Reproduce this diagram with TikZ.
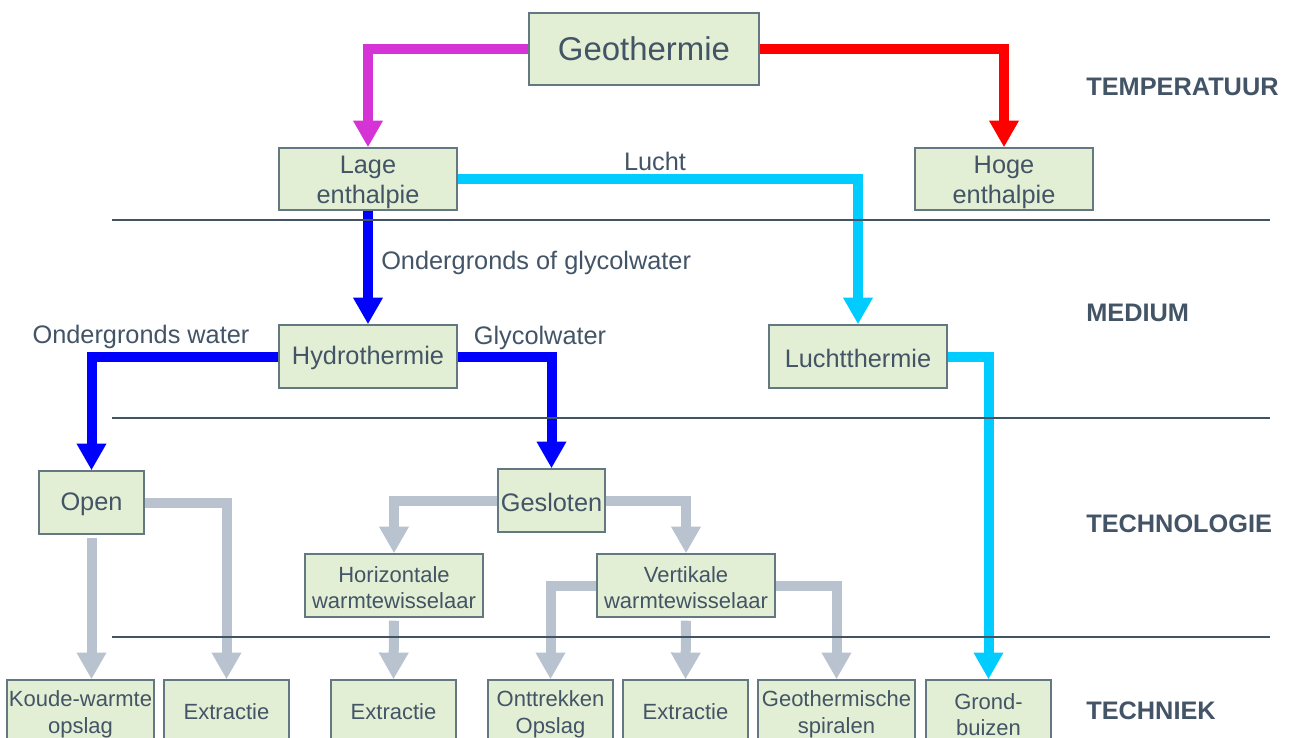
\documentclass[tikz,border=0pt]{standalone}
\usepackage{fontspec}
\setmainfont{Liberation Sans}
\usetikzlibrary{arrows.meta}
\definecolor{txt}{RGB}{66,84,102}
\definecolor{boxfill}{RGB}{227,239,212}
\definecolor{boxline}{RGB}{100,120,130}
\definecolor{sepline}{RGB}{64,84,100}
\definecolor{cmag}{RGB}{214,51,214}
\definecolor{cred}{RGB}{255,0,0}
\definecolor{ccyan}{RGB}{0,204,255}
\definecolor{cblue}{RGB}{0,0,255}
\definecolor{cgrey}{RGB}{184,195,207}
\newcommand\stA{\rule{0pt}{18.4pt}}
\newcommand\stS{\rule{0pt}{16.2pt}}
\newcommand\stB{\rule{0pt}{15.5pt}}
\tikzset{
  box/.style={draw=boxline, line width=1.1pt, fill=boxfill, text=txt, align=center, inner sep=0pt,
    font=\fontsize{19}{22}\selectfont},
  bigbox/.style={box, font=\fontsize{24.7}{28}\selectfont},
  smallbox/.style={box, font=\fontsize{16.5}{19.8}\selectfont},
  flow/.style={line width=7.5pt, -{Triangle[length=20pt,width=21pt]}},
  lbl/.style={text=txt, inner sep=0pt, font=\fontsize{19}{22}\selectfont},
  lvl/.style={text=txt, inner sep=0pt, anchor=west, font=\fontsize{19}{22}\selectfont\bfseries},
  sep/.style={draw=sepline, line width=1.5pt}
}
\begin{document}
\begin{tikzpicture}[x=0.75pt,y=-0.75pt]
\useasboundingbox (0,0) rectangle (1290,738);
\clip (0,0) rectangle (1290,738);
% nodes
\node[bigbox, minimum width=172.5pt, minimum height=54pt] (geo) at (644,49) {Geothermie};
\node[box, minimum width=133.5pt, minimum height=46.5pt] (lage) at (368,179) {\stA Lage\\enthalpie};
\node[box, minimum width=133.5pt, minimum height=46.5pt] (hoge) at (1004,179) {\stA Hoge\\enthalpie};
\node[box, minimum width=133.5pt, minimum height=47.25pt] (hydro) at (368,356.5) {\stS Hydrothermie};
\node[box, minimum width=133.5pt, minimum height=47.25pt] (lucht) at (858,356.5) {\stS Luchtthermie};
\node[box, minimum width=78.75pt, minimum height=47.25pt] (open) at (91.5,502.5) {\stS Open};
\node[box, minimum width=80.25pt, minimum height=47.25pt] (geslo) at (551.5,500.5) {\stS Gesloten};
\node[smallbox, minimum width=133.5pt, minimum height=47.25pt] (hor) at (394,585.5) {\stB Horizontale\\warmtewisselaar};
\node[smallbox, minimum width=133.5pt, minimum height=47.25pt] (vert) at (686,585.5) {\stB Vertikale\\warmtewisselaar};
\node[smallbox, minimum width=110.25pt, minimum height=48pt] (koude) at (80.5,712) {\stB Koude-warmte\\opslag};
\node[smallbox, minimum width=93.75pt, minimum height=48pt] (ext1) at (226.5,712) {Extractie};
\node[smallbox, minimum width=93.75pt, minimum height=48pt] (ext2) at (393.5,712) {Extractie};
\node[smallbox, minimum width=93.75pt, minimum height=48pt] (ontt) at (550.5,712) {\stB Onttrekken\\Opslag};
\node[smallbox, minimum width=93.75pt, minimum height=48pt] (ext3) at (685.5,712) {Extractie};
\node[smallbox, minimum width=117.75pt, minimum height=48pt] (geos) at (836.5,712) {\stB Geothermische\\spiralen};
\node[smallbox, minimum width=93.75pt, minimum height=48pt] (grond) at (988.5,712) {\stB Grond-\\buizen};
% arrows
\draw[flow, cmag] (geo.west) -| (lage.north);
\draw[flow, cred] (geo.east) -| (hoge.north);
\draw[flow, ccyan] (lage.east) -| (lucht.north);
\draw[flow, cblue] (lage.south) -- (hydro.north);
\draw[flow, cblue] (hydro.west) -| (open.north);
\draw[flow, cblue] (hydro.east) -| (geslo.north);
\draw[flow, ccyan] (lucht.east) -| (grond.north);
\draw[flow, cgrey] ([yshift=-2.25pt]open.south) -- (open.south |- koude.north);
\draw[flow, cgrey] (open.east) -| (ext1.north);
\draw[flow, cgrey] (geslo.west) -| (hor.north);
\draw[flow, cgrey] (geslo.east) -| (vert.north);
\draw[flow, cgrey] ([yshift=-2.25pt]hor.south) -- (ext2.north);
\draw[flow, cgrey] (vert.west) -| (ontt.north);
\draw[flow, cgrey] ([yshift=-2.25pt]vert.south) -- (ext3.north);
\draw[flow, cgrey] (vert.east) -| (geos.north);
% separators
\draw[sep] (112,220) -- (1270,220);
\draw[sep] (112,418) -- (1270,418);
\draw[sep] (112,637) -- (1270,637);
% labels
\node[lbl] (lLucht) at (655,161) {Lucht};
\node[lbl, anchor=west] (lOg) at (381,262.5) {Ondergronds of glycolwater};
\node[lbl] (lOw) at (141,336.5) {Ondergronds water};
\node[lbl] (lGw) at (540,337.5) {Glycolwater};
\node[lvl] (t1) at (1086,87) {TEMPERATUUR};
\node[lvl] (t2) at (1086,313) {MEDIUM};
\node[lvl] (t3) at (1086,524) {TECHNOLOGIE};
\node[lvl] (t4) at (1086,711) {TECHNIEK};
\end{tikzpicture}
\end{document}
